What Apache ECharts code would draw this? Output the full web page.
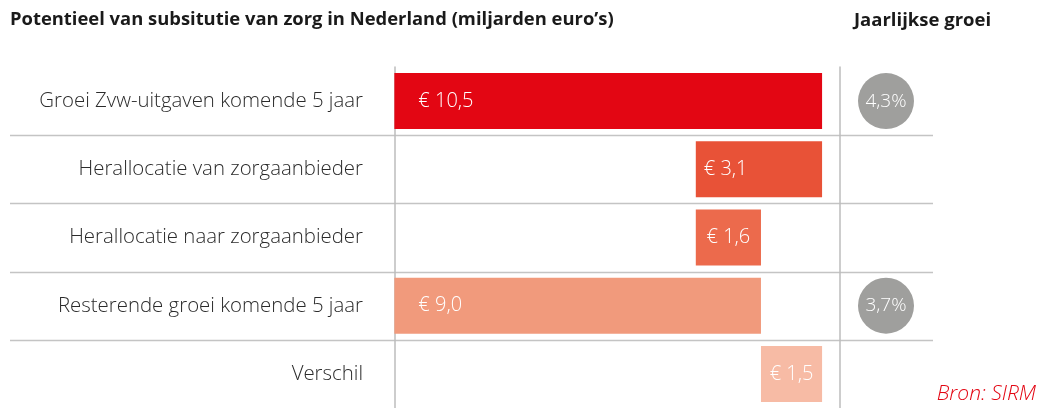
<!DOCTYPE html>
<html>
<head>
	<meta charset="UTF-8" />
	<title>Potentieel van subsitutie van zorg</title>
	<style>
		html, body { margin: 0; padding: 0; background: #fff; }
		#chart { width: 1038px; height: 408px; }
	</style>
</head>
<body>
	<div id="chart"></div>
	<script type="text/javascript" src="https://cdn.jsdelivr.net/npm/echarts@6/dist/echarts.min.js"></script>
	<script type="text/javascript">
		// rijen van de waterval, van boven naar beneden
		const categories = [
			"Groei Zvw-uitgaven komende 5 jaar",
			"Herallocatie van zorgaanbieder",
			"Herallocatie naar zorgaanbieder",
			"Resterende groei komende 5 jaar",
			"Verschil"
		];
		const amounts = [10.5, 3.1, 1.6, 9.0, 1.5]; // miljarden euro
		const steps = ["total", "down", "up", "total", "diff"];
		const growth = [4.3, null, null, 3.7, null]; // jaarlijkse groei in %

		const barColors = ["#e30613", "#e85237", "#ec6a4c", "#f19a7c", "#f7bba5"];
		const labelPos = [
			{ position: "insideLeft", distance: 24 },
			{ position: "insideLeft", distance: 8 },
			{ position: "inside" },
			{ position: "insideLeft", distance: 24 },
			{ position: "inside" }
		];
		const font = "'Open Sans', 'DejaVu Sans', sans-serif";

		// onzichtbare basis berekenen voor de waterval
		const bases = [];
		let running = 0;
		steps.forEach((s, i) => {
			const v = amounts[i];
			if (s === "total") { bases.push(0); running = v; }
			else if (s === "down") { running = +(running - v).toFixed(2); bases.push(running); }
			else if (s === "up") { bases.push(running); running = +(running + v).toFixed(2); }
			else { bases.push(running); }
		});

		const fmt = v => v.toFixed(1).replace(".", ",");

		const growthData = [];
		growth.forEach((g, i) => { if (g !== null) growthData.push([0.5, i, g]); });

		const chart = echarts.init(document.getElementById("chart"));
		chart.setOption({
			animation: false,
			title: [{
				text: "Potentieel van subsitutie van zorg in Nederland (miljarden euro’s)",
				left: 5, top: 6,
				textStyle: { fontFamily: font, fontSize: 18.4, fontWeight: "bold", color: "#1a1a1a" }
			}, {
				text: "Jaarlijkse groei",
				left: 849, top: 6,
				textStyle: { fontFamily: font, fontSize: 18.5, fontWeight: "bold", color: "#1a1a1a" }
			}],
			grid: [
				{ left: 374, right: 198, top: 67, bottom: 0 },
				{ left: 840, right: 106, top: 67, bottom: 0 }
			],
			xAxis: [
				{ gridIndex: 0, type: "value", min: -0.5, max: 10.94, show: false },
				{ gridIndex: 1, type: "value", min: 0, max: 1, show: false }
			],
			yAxis: [
				{
					gridIndex: 0, type: "category", data: categories, inverse: true,
					axisLine: { show: true, lineStyle: { color: "#bdbdbd", width: 1.5 } },
					axisTick: { show: false },
					splitLine: { show: false },
					axisLabel: { margin: 11, fontFamily: font, fontSize: 20.4, fontWeight: 300, color: "#2b2b2b" }
				},
				{
					gridIndex: 1, type: "category", data: categories, inverse: true,
					axisLine: { show: true, lineStyle: { color: "#bdbdbd", width: 1.5 } },
					axisTick: { show: false }, axisLabel: { show: false }
				}
			],
			series: [
				{
					type: "bar", stack: "w", xAxisIndex: 0, yAxisIndex: 0,
					barWidth: 56, silent: true,
					itemStyle: { color: "transparent" },
					data: bases
				},
				{
					type: "bar", stack: "w", xAxisIndex: 0, yAxisIndex: 0,
					barWidth: 56,
					data: amounts.map((v, i) => ({
						value: v,
						itemStyle: { color: barColors[i] },
						label: Object.assign({
							show: true, color: "#fff", fontFamily: font, fontSize: 20, fontWeight: 300,
							formatter: "€ " + fmt(v)
						}, labelPos[i])
					}))
				},
				{
					type: "scatter", xAxisIndex: 1, yAxisIndex: 1,
					symbolSize: 56,
					itemStyle: { color: "#9f9f9d", opacity: 1 },
					label: {
						show: true, position: "inside", color: "#fff",
						fontFamily: font, fontSize: 19, fontWeight: 300,
						formatter: p => fmt(p.value[2]) + "%"
					},
					data: growthData
				}
			]
		});

		// scheidingslijnen tussen de rijen en bronvermelding
		const centers = categories.map((c, i) => chart.convertToPixel({ yAxisIndex: 0 }, i));
		const lines = [];
		for (let i = 1; i < centers.length; i++) {
			const y = Math.round((centers[i - 1] + centers[i]) / 2) + 0.5;
			lines.push({
				type: "line", silent: true, z: 0,
				shape: { x1: 10, y1: y, x2: 933, y2: y },
				style: { stroke: "#c4c4c4", lineWidth: 1.5 }
			});
		}
		lines.push({
			type: "text", right: 2, bottom: 3,
			style: { text: "Bron: SIRM", fill: "#e30613", font: "italic 300 21px " + font }
		});
		chart.setOption({ graphic: lines });
	</script>
</body>
</html>
